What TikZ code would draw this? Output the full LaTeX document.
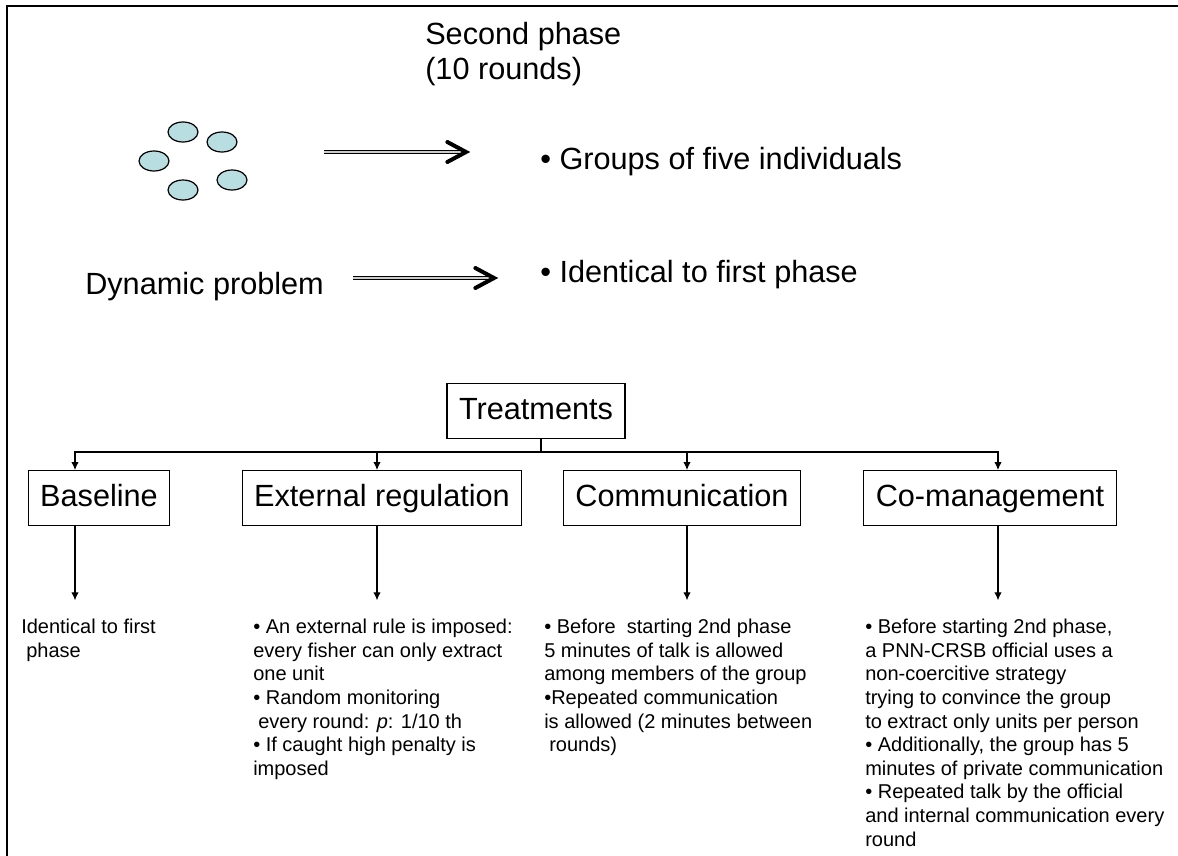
\documentclass[tikz,border=0pt]{standalone}
\usepackage{fontspec}
\setmainfont{Liberation Sans}
\usetikzlibrary{positioning, arrows.meta, shapes.geometric, decorations.markings}

\definecolor{cellblue}{RGB}{185,222,226}

\tikzset{
  big/.style={font=\fontsize{23}{26}\selectfont, inner sep=0pt},
  small/.style={font=\fontsize{15}{17.7}\selectfont, inner sep=0pt, align=left, anchor=north west},
  tbox/.style={draw, line width=0.9pt, font=\fontsize{23}{26}\selectfont, inner xsep=9pt,
    text height=16.8pt, text depth=4.8pt, minimum height=41pt},
  cell/.style={ellipse, draw, line width=0.9pt, fill=cellblue, minimum width=22.5pt, minimum height=15pt, inner sep=0pt},
  tip/.style={line width=0.8pt, -{Latex[length=6pt,width=5.5pt]}},
  dblarrow/.style={line width=3.6pt, shorten >=4pt,
    postaction={draw=gray!40, line width=1.1pt, shorten >=5pt},
    postaction={decorate, decoration={markings, mark=at position 1 with
      {\draw[black, line width=3pt, shorten >=0pt, line cap=round] (-17pt,7.5pt) -- (-3pt,0pt) -- (-17pt,-7.5pt);}}}}
}

\begin{document}
\begin{tikzpicture}[x=0.75pt, y=-0.75pt]
\useasboundingbox (0,0) rectangle (1178,856);
\draw[line width=2.2pt] (7,856) -- (7,6) -- (1178,6);

\node[big, align=left, anchor=north west] (phase) at (425,22) {Second phase\\(10 rounds)};

% five fishers
\node[cell] (f1) at (183,132) {};
\node[cell] (f2) at (222,142) {};
\node[cell] (f3) at (154,161) {};
\node[cell] (f4) at (183,190) {};
\node[cell] (f5) at (232,180) {};

\node[big, anchor=west] (groups) at (540,162) {• Groups of five individuals};
\node[big, anchor=west] (dyn) at (85,287) {Dynamic problem};
\node[big, anchor=west] (same) at (540,275) {• Identical to first phase};

\coordinate (a1s) at (324,152);
\coordinate (a1e) at (470,152);
\coordinate (a2s) at (353,278);
\coordinate (a2e) at (498,278);
\draw[dblarrow] (a1s) -- (a1e);
\draw[dblarrow] (a2s) -- (a2e);

% treatments
\node[tbox] (treat) at (536,411) {Treatments};
\node[tbox] (base) at (99,498) {Baseline};
\node[tbox] (ext) at (382,498) {External regulation};
\node[tbox] (comm) at (682,498) {Communication};
\node[tbox] (coman) at (990,498) {Co-management};

\coordinate (bus) at (541,452);
\draw[line width=0.8pt] (treat.south -| bus) -- (bus);
\draw[tip] (bus) -| (base.north -| 75,0);
\draw[tip] (bus) -| (ext.north -| 377,0);
\draw[tip] (bus) -| (comm.north -| 687,0);
\draw[tip] (bus) -| (coman.north -| 998,0);

% details
\node[small] (tbase) at (21,619) {Identical to first\\\hspace*{0.25em}phase};
\node[small] (text) at (253,619) {• An external rule is imposed:\\every fisher can only extract\\one unit\\• Random monitoring\\\hspace*{0.25em}every round: \textit{p}: 1/10 th\\• If caught high penalty is\\imposed};
\node[small] (tcomm) at (544,619) {• Before\ \ starting 2nd phase\\5 minutes of talk is allowed\\among members of the group\\•Repeated communication\\is allowed (2 minutes between\\\hspace*{0.25em}rounds)};
\node[small] (tcoman) at (865,619) {• Before starting 2nd phase,\\a PNN-CRSB official uses a\\non-coercitive strategy\\trying to convince the group\\to extract only units per person\\• Additionally, the group has 5\\minutes of private communication\\• Repeated talk by the official\\and internal communication every\\round};

\draw[tip, shorten >=14pt] (base.south -| 75,0) -- (tbase.north -| 75,0);
\draw[tip, shorten >=14pt] (ext.south -| 377,0) -- (text.north -| 377,0);
\draw[tip, shorten >=14pt] (comm.south -| 687,0) -- (tcomm.north -| 687,0);
\draw[tip, shorten >=14pt] (coman.south -| 998,0) -- (tcoman.north -| 998,0);
\end{tikzpicture}
\end{document}
